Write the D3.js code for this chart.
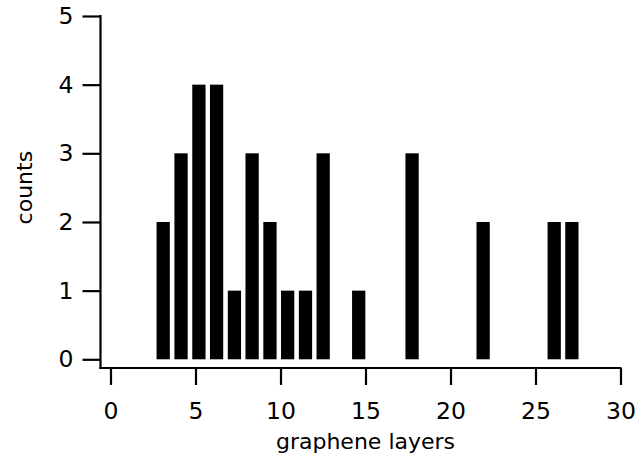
<!DOCTYPE html>
<html>
<head>
<meta charset="utf-8">
<script src="https://cdn.jsdelivr.net/npm/d3@7/dist/d3.min.js"></script>
<style>
  html, body { margin: 0; padding: 0; background: #fff; }
  svg { display: block; }
  text { font-family: "DejaVu Sans", sans-serif; fill: #000; }
</style>
</head>
<body>
<svg id="chart" width="640" height="469"></svg>
<script>
// Data
const binCenters = [3.1, 4.15, 5.2, 6.24, 7.29, 8.33, 9.38, 10.42, 11.47, 12.51, 14.6, 17.74, 21.92, 26.1, 27.14];
const counts     = [2, 3, 4, 4, 1, 3, 2, 1, 1, 3, 1, 3, 2, 2, 2];
const xTicks = [0, 5, 10, 15, 20, 25, 30];
const yTicks = [0, 1, 2, 3, 4, 5];
const xTitle = "graphene layers";
const yTitle = "counts";
const barWidthUnits = 0.78;

const svg = d3.select("#chart");
const x = d3.scaleLinear().domain([0, 30]).range([110.5, 620.5]);
const y = d3.scaleLinear().domain([0, 5]).range([359.3, 16]);

const xAxisY = 368;
const yAxisX = 100.5;
const tickFont = 23.5;
const titleFont = 22;

// Bars
svg.append("g").selectAll("rect")
  .data(binCenters.map((c, i) => ({c, n: counts[i]})))
  .join("rect")
  .attr("x", d => x(d.c - barWidthUnits / 2))
  .attr("width", d => x(d.c + barWidthUnits / 2) - x(d.c - barWidthUnits / 2))
  .attr("y", d => y(d.n))
  .attr("height", d => y(0) - y(d.n))
  .attr("fill", "#000");

// X axis (offset below plot)
const xAxis = d3.axisBottom(x).tickValues(xTicks).tickFormat(d3.format("d"))
  .tickSize(17).tickPadding(17).tickSizeOuter(0);
const gx = svg.append("g").attr("transform", `translate(0,${xAxisY})`).call(xAxis);
gx.select(".domain").remove();
gx.append("line").attr("x1", yAxisX - 1).attr("x2", x(30) + 1).attr("y1", 0).attr("y2", 0)
  .attr("stroke", "#000").attr("stroke-width", 2.2);
gx.selectAll(".tick line").attr("stroke", "#000").attr("stroke-width", 2.2);
gx.selectAll(".tick text").attr("font-size", tickFont).attr("font-family", "DejaVu Sans");

// Y axis (offset left of plot)
const yAxis = d3.axisLeft(y).tickValues(yTicks).tickFormat(d3.format("d"))
  .tickSize(18).tickPadding(9).tickSizeOuter(0);
const gy = svg.append("g").attr("transform", `translate(${yAxisX},0)`).call(yAxis);
gy.select(".domain").remove();
gy.append("line").attr("x1", 0).attr("x2", 0).attr("y1", y(5) - 1).attr("y2", xAxisY + 1)
  .attr("stroke", "#000").attr("stroke-width", 2.2);
gy.selectAll(".tick line").attr("stroke", "#000").attr("stroke-width", 2.2);
gy.selectAll(".tick text").attr("font-size", tickFont).attr("font-family", "DejaVu Sans");

// Titles
svg.append("text")
  .attr("x", (x(0) + x(30)) / 2)
  .attr("y", 449)
  .attr("text-anchor", "middle")
  .attr("font-size", titleFont)
  .text(xTitle);

svg.append("text")
  .attr("transform", `translate(32,${(y(0) + y(5)) / 2}) rotate(-90)`)
  .attr("text-anchor", "middle")
  .attr("font-size", titleFont)
  .text(yTitle);
</script>
</body>
</html>
